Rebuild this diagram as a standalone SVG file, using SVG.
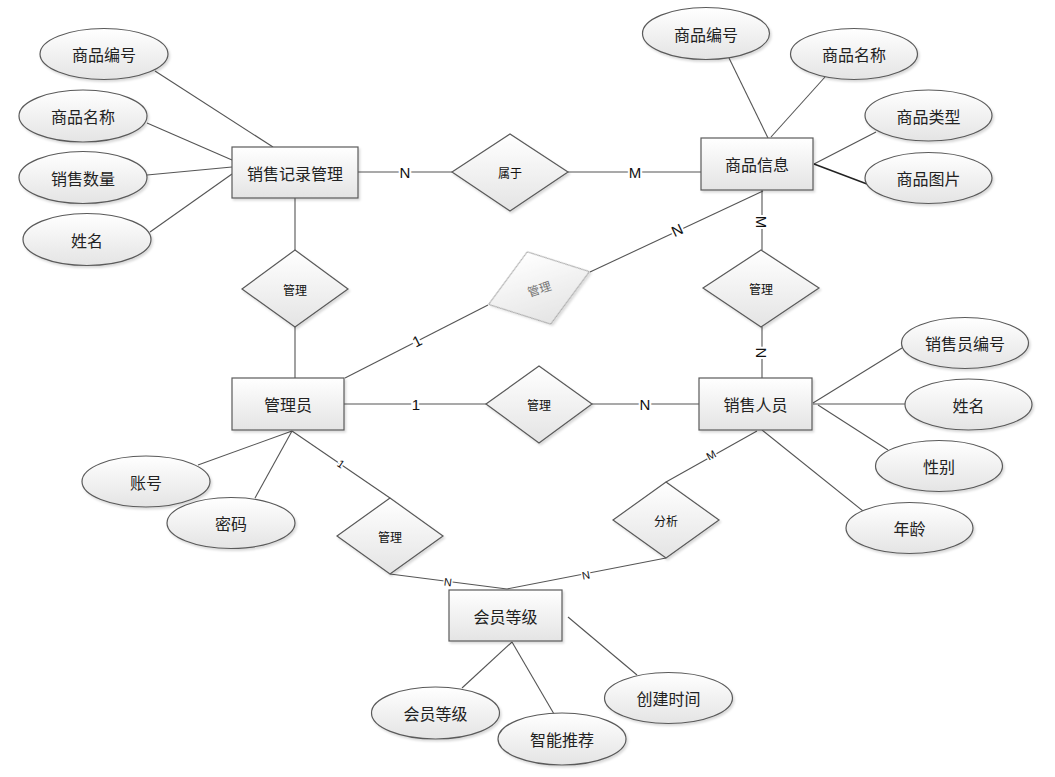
<svg xmlns="http://www.w3.org/2000/svg" width="1055" height="777" viewBox="0 0 1055 777">
<style>
.ent{fill:url(#g);stroke:#5a5a5a;stroke-width:1.2;filter:url(#sh)}
.att{fill:url(#g);stroke:#5a5a5a;stroke-width:1.2;filter:url(#sh)}
.rel{fill:url(#g);stroke:#5a5a5a;stroke-width:1.2;filter:url(#sh)}
.rel2{fill:url(#g);stroke:#9a9a9a;stroke-width:1;filter:url(#sh)}
.t{font-family:"Noto Sans CJK SC","Noto Sans",sans-serif;font-size:16px;fill:#222;text-anchor:middle;dominant-baseline:central}
.ts{font-family:"Noto Sans CJK SC","Noto Sans",sans-serif;font-size:12px;fill:#111;text-anchor:middle;dominant-baseline:central}
.tg{font-family:"Noto Sans CJK SC","Noto Sans",sans-serif;font-size:12px;fill:#777;text-anchor:middle;dominant-baseline:central}
.c line{stroke:#555;stroke-width:1.1}
.lb{font-family:"Liberation Sans",Arial,sans-serif;font-size:15px;fill:#111;text-anchor:middle;dominant-baseline:central;stroke:#fff;stroke-width:4;paint-order:stroke}
.lbs{font-family:"Liberation Sans",Arial,sans-serif;font-size:11px;fill:#111;text-anchor:middle;dominant-baseline:central;stroke:#fff;stroke-width:3;paint-order:stroke}
</style>
<defs>
<linearGradient id="g" x1="0" y1="0" x2="0" y2="1">
<stop offset="0" stop-color="#ffffff"/>
<stop offset="1" stop-color="#e4e4e4"/>
</linearGradient>
<filter id="sh" x="-10%" y="-10%" width="130%" height="140%">
<feDropShadow dx="1.5" dy="2" stdDeviation="1" flood-color="#000" flood-opacity="0.15"/>
</filter>
</defs>
<rect width="1055" height="777" fill="#fff"/>

<g id="connectors" class="c">
<line x1="155" y1="71" x2="273" y2="147"/>
<line x1="147" y1="123" x2="232" y2="160"/>
<line x1="147" y1="175" x2="232" y2="167"/>
<line x1="150" y1="232" x2="232" y2="174"/>
<line x1="295" y1="198" x2="295" y2="250"/>
<line x1="295" y1="327" x2="295" y2="378"/>
<line x1="358" y1="172" x2="452" y2="172"/>
<line x1="568" y1="172" x2="701" y2="172"/>
<line x1="729" y1="58" x2="768" y2="138"/>
<line x1="825" y1="77" x2="771" y2="137"/>
<line x1="876" y1="132" x2="814" y2="164"/>
<line x1="867" y1="184" x2="814" y2="164" style="stroke:#222;stroke-width:1.5"/>
<line x1="762" y1="190" x2="762" y2="250"/>
<line x1="762" y1="327" x2="762" y2="378"/>
<line x1="345" y1="378" x2="488" y2="305"/>
<line x1="590" y1="272" x2="763" y2="191"/>
<line x1="344" y1="404" x2="486" y2="404"/>
<line x1="592" y1="404" x2="699" y2="404"/>
<line x1="902" y1="348" x2="813" y2="403"/>
<line x1="813" y1="404" x2="905" y2="404"/>
<line x1="888" y1="450" x2="818" y2="405"/>
<line x1="863" y1="511" x2="762" y2="430"/>
<line x1="757" y1="431" x2="666" y2="482"/>
<line x1="198" y1="465" x2="292" y2="431"/>
<line x1="255" y1="498" x2="292" y2="431"/>
<line x1="292" y1="431" x2="390" y2="498"/>
<line x1="390" y1="574" x2="507" y2="589"/>
<line x1="666" y1="558" x2="507" y2="589"/>
<line x1="462" y1="688" x2="512" y2="642"/>
<line x1="554" y1="714" x2="512" y2="642"/>
<line x1="637" y1="675" x2="568" y2="617"/>
<text class="lb" x="405" y="172">N</text>
<text class="lb" x="635" y="172">M</text>
<text class="lb" x="416" y="404">1</text>
<text class="lb" x="645" y="404">N</text>
<text class="lb" transform="translate(761,222) rotate(90)">M</text>
<text class="lb" transform="translate(761,353) rotate(90)">N</text>
<text class="lb" transform="translate(417,341) rotate(-27)">1</text>
<text class="lb" transform="translate(677,230) rotate(-25)">N</text>
<text class="lbs" transform="translate(711,455) rotate(-29)">M</text>
<text class="lbs" transform="translate(341,464) rotate(34)">1</text>
<text class="lbs" transform="translate(448,582) rotate(7)">N</text>
<text class="lbs" transform="translate(586,575) rotate(-11)">N</text>
</g>

<g id="e-sales-record"><rect class="ent" x="232" y="147" width="126" height="51"/><text class="t" x="295" y="172.5">销售记录管理</text></g>
<g id="e-product"><rect class="ent" x="701" y="138" width="112" height="52"/><text class="t" x="757" y="164">商品信息</text></g>
<g id="e-admin"><rect class="ent" x="232" y="378" width="112" height="52"/><text class="t" x="288" y="404">管理员</text></g>
<g id="e-salesman"><rect class="ent" x="699" y="378" width="113" height="52"/><text class="t" x="755.5" y="404">销售人员</text></g>
<g id="e-member"><rect class="ent" x="449" y="590" width="113" height="51"/><text class="t" x="505.5" y="615.5">会员等级</text></g>

<g id="r-belong"><polygon class="rel" points="452,172 510,134 568,172 510,211"/><text class="ts" x="510" y="172">属于</text></g>
<g id="r-manage1"><polygon class="rel" points="242,289 295,250 348,289 295,327"/><text class="ts" x="295" y="289">管理</text></g>
<g id="r-manage2" transform="translate(539,288) rotate(-18)"><polygon class="rel2" points="-53,0 0,-38 53,0 0,38"/><text class="tg" x="0" y="0">管理</text></g>
<g id="r-manage3"><polygon class="rel" points="703,288 761,250 819,288 761,327"/><text class="ts" x="761" y="288">管理</text></g>
<g id="r-manage4"><polygon class="rel" points="486,404 539,366 592,404 539,443"/><text class="ts" x="539" y="404">管理</text></g>
<g id="r-manage5"><polygon class="rel" points="337,536 390,498 443,536 390,574"/><text class="ts" x="390" y="536">管理</text></g>
<g id="r-analyze"><polygon class="rel" points="613,520 666,482 719,520 666,558"/><text class="ts" x="666" y="520">分析</text></g>

<g id="a-l-id"><ellipse class="att" cx="104" cy="54" rx="64" ry="25.5"/><text class="t" x="104" y="54">商品编号</text></g>
<g id="a-l-name"><ellipse class="att" cx="83" cy="116" rx="64" ry="26"/><text class="t" x="83" y="116">商品名称</text></g>
<g id="a-l-qty"><ellipse class="att" cx="83" cy="177.5" rx="64" ry="26"/><text class="t" x="83" y="177.5">销售数量</text></g>
<g id="a-l-person"><ellipse class="att" cx="87" cy="239.5" rx="64" ry="26"/><text class="t" x="87" y="239.5">姓名</text></g>

<g id="a-p-id"><ellipse class="att" cx="706" cy="33.5" rx="63.5" ry="26"/><text class="t" x="706" y="33.5">商品编号</text></g>
<g id="a-p-name"><ellipse class="att" cx="854" cy="54" rx="63.5" ry="25.5"/><text class="t" x="854" y="54">商品名称</text></g>
<g id="a-p-type"><ellipse class="att" cx="928.5" cy="115.5" rx="63.5" ry="25.5"/><text class="t" x="928.5" y="115.5">商品类型</text></g>
<g id="a-p-img"><ellipse class="att" cx="928.5" cy="178" rx="63.5" ry="25.5"/><text class="t" x="928.5" y="178">商品图片</text></g>

<g id="a-s-id"><ellipse class="att" cx="965" cy="343" rx="63.5" ry="25.5"/><text class="t" x="965" y="343">销售员编号</text></g>
<g id="a-s-name"><ellipse class="att" cx="968.5" cy="404.5" rx="63.5" ry="25.5"/><text class="t" x="968.5" y="404.5">姓名</text></g>
<g id="a-s-sex"><ellipse class="att" cx="939" cy="466" rx="63.5" ry="25.5"/><text class="t" x="939" y="466">性别</text></g>
<g id="a-s-age"><ellipse class="att" cx="909.5" cy="528" rx="63.5" ry="25.5"/><text class="t" x="909.5" y="528">年龄</text></g>

<g id="a-a-account"><ellipse class="att" cx="146" cy="481.5" rx="64" ry="25.5"/><text class="t" x="146" y="481.5">账号</text></g>
<g id="a-a-pwd"><ellipse class="att" cx="231" cy="523" rx="64" ry="25.5"/><text class="t" x="231" y="523">密码</text></g>

<g id="a-m-level"><ellipse class="att" cx="435.5" cy="713" rx="64" ry="26"/><text class="t" x="435.5" y="713">会员等级</text></g>
<g id="a-m-rec"><ellipse class="att" cx="562" cy="739" rx="64" ry="26"/><text class="t" x="562" y="739">智能推荐</text></g>
<g id="a-m-time"><ellipse class="att" cx="668.5" cy="698" rx="64" ry="25.5"/><text class="t" x="668.5" y="698">创建时间</text></g>
</svg>
